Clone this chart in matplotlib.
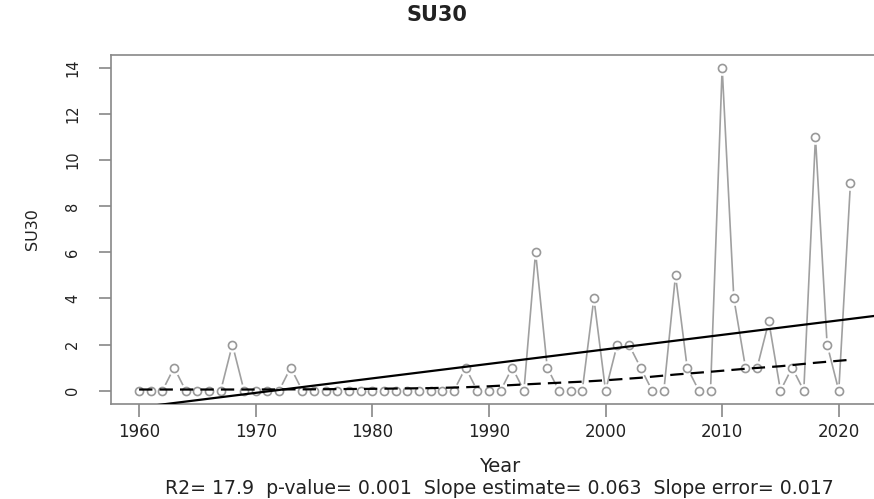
import numpy as np
import matplotlib
matplotlib.use('Agg')
import matplotlib.pyplot as plt

# SU30 counts per year
years = list(range(1960, 2022))
su30 = [0, 0, 0, 1, 0, 0, 0, 0, 2, 0,   # 1960-1969
        0, 0, 0, 1, 0, 0, 0, 0, 0, 0,   # 1970-1979
        0, 0, 0, 0, 0, 0, 0, 0, 1, 0,   # 1980-1989
        0, 0, 1, 0, 6, 1, 0, 0, 0, 4,   # 1990-1999
        0, 2, 2, 1, 0, 0, 5, 1, 0, 0,   # 2000-2009
        14, 4, 1, 1, 3, 0, 1, 0, 11, 2, # 2010-2019
        0, 9]                           # 2020-2021

# smoother (dashed)
smooth_years = [1960, 1965, 1970, 1975, 1980, 1985, 1988, 1990, 1993, 1995,
                1998, 2000, 2003, 2006, 2009, 2012, 2015, 2018, 2021]
smooth_vals = [0.05, 0.05, 0.05, 0.06, 0.08, 0.11, 0.15, 0.19, 0.27, 0.32,
               0.39, 0.45, 0.56, 0.70, 0.82, 0.95, 1.06, 1.21, 1.34]

subtitle = 'R2= 17.9  p-value= 0.001  Slope estimate= 0.063  Slope error= 0.017'

plt.rcParams['font.family'] = ['DejaVu Sans']

fig = plt.figure(figsize=(8.74, 4.99), dpi=100)
ax = fig.add_axes([0.1266, 0.1912, 0.879, 0.6990])

grey = '#a0a0a0'
ax.plot(years, su30, color=grey, lw=1.2, zorder=1)
ax.plot(years, su30, ls='none', marker='o', ms=9.5, mfc='white', mec='white', zorder=2)
ax.plot(years, su30, ls='none', marker='o', ms=5.8, mfc='white', mec='#999999', mew=1.2, zorder=3)

# linear trend
coef = np.polyfit(years, su30, 1)
xr = np.array([1957, 2024])
ax.plot(xr, np.polyval(coef, xr), color='black', lw=1.6, zorder=4)
ax.plot(smooth_years, smooth_vals, color='black', lw=1.6, ls=(0, (6, 3.2)), zorder=4)

ax.set_xlim(1957.56, 2023.44)
ax.set_ylim(-0.56, 14.56)
ax.set_xticks(range(1960, 2021, 10))
ax.set_yticks(range(0, 15, 2))
for s in ax.spines.values():
    s.set_color('#888888')
    s.set_linewidth(1.2)
ax.tick_params(axis='both', colors='#888888', length=9, width=1.2, labelcolor='#222222')
ax.tick_params(axis='x', labelsize=12, pad=5)
ax.tick_params(axis='y', labelsize=10.5, pad=13)
for lab in ax.get_yticklabels():
    lab.set_rotation(90)
    lab.set_va('center')

ax.set_ylabel('SU30', fontsize=11.5, color='#222222', labelpad=18)
fig.text(0.5, 0.958, 'SU30', ha='center', va='baseline', fontsize=15, fontweight='bold', color='#222222')
fig.text(0.572, 1 - 472 / 499, 'Year', ha='center', va='baseline', fontsize=14, color='#222222')
fig.text(0.571, 1 - 494 / 499, subtitle, ha='center', va='baseline', fontsize=13.6, color='#222222')

fig.savefig('out.png', dpi=100)
